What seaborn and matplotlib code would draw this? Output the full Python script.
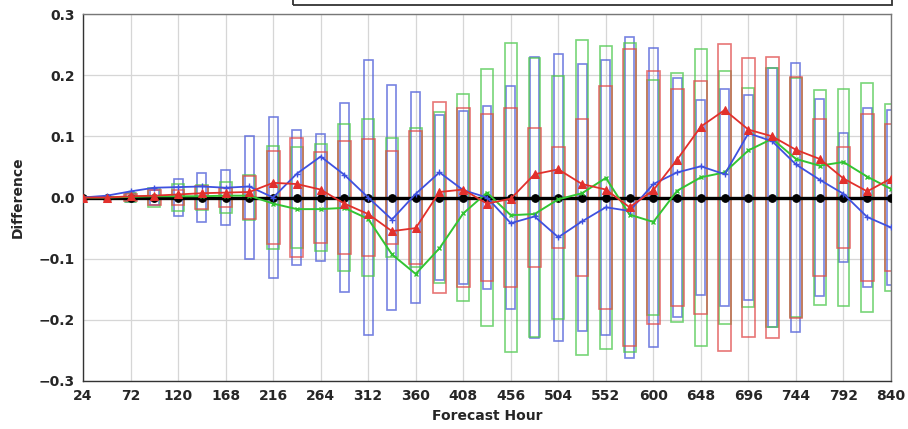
import matplotlib
matplotlib.use("Agg")
import matplotlib.pyplot as plt
import seaborn as sns
import pandas as pd
from matplotlib.patches import Rectangle
from matplotlib.ticker import FuncFormatter

hours = [24, 48, 72, 96, 120, 144, 168, 192, 216, 240, 264, 288, 312, 336, 360,
         384, 408, 432, 456, 480, 504, 528, 552, 576, 600, 624, 648, 672, 696,
         720, 744, 768, 792, 816, 840]

zero_line = [0.0] * 35

blue_mean = [0.0, 0.003, 0.010, 0.016, 0.017, 0.018, 0.016, 0.018, 0.0, 0.039,
             0.067, 0.037, 0.0, -0.036, 0.006, 0.041, 0.012, 0.0, -0.042, -0.031,
             -0.065, -0.039, -0.016, -0.022, 0.022, 0.041, 0.051, 0.038, 0.105,
             0.092, 0.054, 0.029, 0.006, -0.032, -0.049]

red_mean = [0.0, 0.0, 0.002, 0.003, 0.005, 0.007, 0.008, 0.009, 0.024, 0.022,
            0.013, -0.010, -0.027, -0.055, -0.050, 0.009, 0.013, -0.010, -0.002,
            0.038, 0.046, 0.022, 0.013, -0.016, 0.012, 0.062, 0.116, 0.143, 0.111,
            0.100, 0.078, 0.063, 0.031, 0.010, 0.031]

green_mean = [0.0, 0.0, 0.001, 0.002, 0.002, 0.002, 0.003, 0.003, -0.010, -0.019,
              -0.019, -0.017, -0.035, -0.093, -0.125, -0.083, -0.026, 0.008, -0.029,
              -0.027, -0.003, 0.007, 0.032, -0.028, -0.040, 0.011, 0.033, 0.041,
              0.077, 0.096, 0.063, 0.052, 0.058, 0.034, 0.014]

blue_ci = [0.0, 0.001, 0.008, 0.012, 0.030, 0.040, 0.045, 0.100, 0.132, 0.110,
           0.103, 0.154, 0.224, 0.184, 0.173, 0.135, 0.141, 0.149, 0.182, 0.230,
           0.234, 0.218, 0.224, 0.262, 0.244, 0.195, 0.160, 0.178, 0.167, 0.212,
           0.220, 0.161, 0.105, 0.147, 0.143]

red_ci = [0.0, 0.001, 0.005, 0.013, 0.013, 0.018, 0.015, 0.035, 0.076, 0.098,
          0.075, 0.092, 0.096, 0.076, 0.108, 0.156, 0.146, 0.136, 0.147, 0.114,
          0.083, 0.128, 0.183, 0.242, 0.207, 0.178, 0.191, 0.251, 0.228, 0.229,
          0.197, 0.128, 0.082, 0.136, 0.120]

green_ci = [0.0, 0.001, 0.007, 0.016, 0.022, 0.020, 0.025, 0.036, 0.085, 0.082,
            0.087, 0.120, 0.128, 0.097, 0.113, 0.140, 0.169, 0.210, 0.252, 0.228,
            0.199, 0.258, 0.248, 0.252, 0.192, 0.204, 0.242, 0.207, 0.179, 0.212,
            0.195, 0.176, 0.178, 0.187, 0.153]

x_ticks = [24, 72, 120, 168, 216, 264, 312, 360, 408, 456, 504, 552, 600, 648,
           696, 744, 792, 840]
y_ticks = [-0.3, -0.2, -0.1, 0.0, 0.1, 0.2, 0.3]

df = pd.DataFrame({"hour": hours, "zero": zero_line, "blue": blue_mean,
                   "red": red_mean, "green": green_mean})

sns.set_style("whitegrid", {"grid.color": "#d6d6d6", "axes.edgecolor": "#444444"})
plt.rcParams['font.family'] = ['DejaVu Sans']

fig = plt.figure(figsize=(9.08, 4.29), dpi=100)
ax = fig.add_axes([83 / 908, 1 - 381 / 429, 808 / 908, 367 / 429])

BLUE = "#3f51e0"
RED = "#e2302c"
GREEN = "#33c433"

for half, color, width in [(blue_ci, "#4a5ad8", 9), (green_ci, "#4cc84c", 12),
                           (red_ci, "#e04848", 13)]:
    ax.bar(hours, [2 * h for h in half], bottom=[-h for h in half], width=width,
           fill=False, edgecolor=color, linewidth=1.2, alpha=0.75, zorder=2)

sns.lineplot(data=df, x="hour", y="zero", ax=ax, color="black", linewidth=2.4,
             marker="o", markersize=5.5, markeredgecolor="black", zorder=4)
sns.lineplot(data=df, x="hour", y="green", ax=ax, color=GREEN, linewidth=1.4,
             marker="x", markersize=3.5, markeredgecolor=GREEN, markeredgewidth=1.0, zorder=5)
sns.lineplot(data=df, x="hour", y="blue", ax=ax, color=BLUE, linewidth=1.3,
             marker="+", markersize=4.5, markeredgecolor=BLUE, markeredgewidth=1.0, zorder=5)
sns.lineplot(data=df, x="hour", y="red", ax=ax, color=RED, linewidth=1.3,
             marker="^", markersize=5.5, markeredgecolor=RED, markerfacecolor=RED, zorder=6)

ax.set_xlim(24, 840)
ax.set_ylim(-0.3, 0.3)
ax.set_xticks(x_ticks)
ax.set_yticks(y_ticks)


def fmt(v, pos):
    s = "%.1f" % v
    if s == "-0.0":
        s = "0.0"
    return s.replace("-", "\u2212")


ax.yaxis.set_major_formatter(FuncFormatter(fmt))
ax.tick_params(axis="both", labelsize=10, length=3, color="#777777", pad=3)
for lab in ax.get_xticklabels() + ax.get_yticklabels():
    lab.set_fontweight("bold")
ax.grid(True, color="#d6d6d6", linewidth=0.9)
ax.set_xlabel("Forecast Hour", fontsize=10, fontweight="bold", labelpad=4)
ax.set_ylabel("Difference", fontsize=10, fontweight="bold", labelpad=10)
for side in ["left", "bottom"]:
    ax.spines[side].set_color("#333333")
for side in ["top", "right"]:
    ax.spines[side].set_color("#777777")
for s in ax.spines.values():
    s.set_linewidth(1.0)

fig.add_artist(Rectangle((293 / 908, 1 - 5 / 429), (892 - 293) / 908, 0.2,
                         transform=fig.transFigure, fill=False,
                         edgecolor="#333333", linewidth=1.3, clip_on=False))

fig.savefig("out.png", dpi=100)
